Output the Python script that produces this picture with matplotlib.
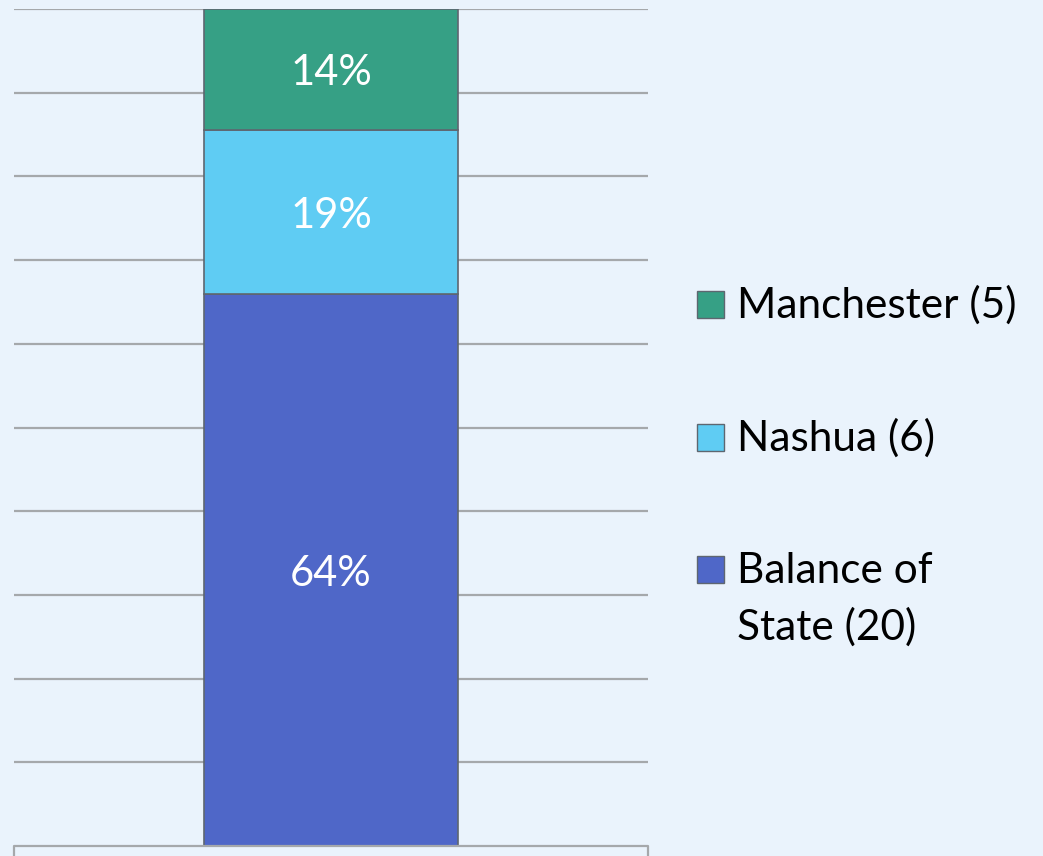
import numpy as np
import matplotlib
matplotlib.use("Agg")
import matplotlib.pyplot as plt
import matplotlib.transforms as mtransforms
from matplotlib.patches import Rectangle
from matplotlib.lines import Line2D

# --- data ---
labels = ["Balance of\nState (20)", "Nashua (6)", "Manchester (5)"]
shares = [64, 19, 14]
colors = ["#4F67C8", "#5FCCF3", "#36A085"]

BG = "#EAF3FC"
W, H = 1043, 856

plt.rcParams['font.family'] = ['Lato', 'DejaVu Sans']

fig = plt.figure(figsize=(W / 100, H / 100), dpi=100, facecolor=BG)
ax = fig.add_axes([14 / W, 10 / H, (648 - 14) / W, (847 - 10) / H])
ax.set_facecolor(BG)

top = sum(shares)
ax.set_xlim(-0.5, 0.5)
ax.set_ylim(0, top)

# gridlines
for g in np.linspace(0, top, 11)[1:]:
    ax.axhline(g, color="#A5A8AB", lw=1.6, zorder=1)

# labels sit a little lower than the exact centre in the original
lbl_tr = mtransforms.offset_copy(ax.transData, fig=fig, y=-4, units="dots")

bottom = 0
for val, c in zip(shares, colors):
    ax.bar(0, val, bottom=bottom, width=0.4, color=c, edgecolor="#5E6670",
           linewidth=1.2, zorder=2)
    ax.text(0, bottom + val / 2, f"{val}%", ha="center", va="center",
            color="white", fontsize=30, zorder=3, transform=lbl_tr)
    bottom += val

for s in ax.spines.values():
    s.set_visible(False)
ax.set_xticks([])
ax.set_yticks([])

# frame of category-axis area below the plot (cropped)
fig.add_artist(Line2D([14 / W, 14 / W, 648 / W, 648 / W],
                      [-0.01, 10 / H, 10 / H, -0.01],
                      color="#A5A8AB", lw=1.6, transform=fig.transFigure))

# legend drawn to match the reference placement
baselines = [583, 451, 318]
line_gap = 57
for lab, c, yb in zip(labels, colors, baselines):
    fig.add_artist(Rectangle((697 / W, (H - yb) / H), 27 / W, 27 / H,
                             facecolor=c, edgecolor="#5E6670", lw=1,
                             transform=fig.transFigure))
    for k, line in enumerate(lab.split("\n")):
        fig.text(737 / W, (H - yb - k * line_gap) / H, line, ha="left",
                 va="baseline", fontsize=30.5, color="black")

fig.savefig("out.png", dpi=100, facecolor=BG)
